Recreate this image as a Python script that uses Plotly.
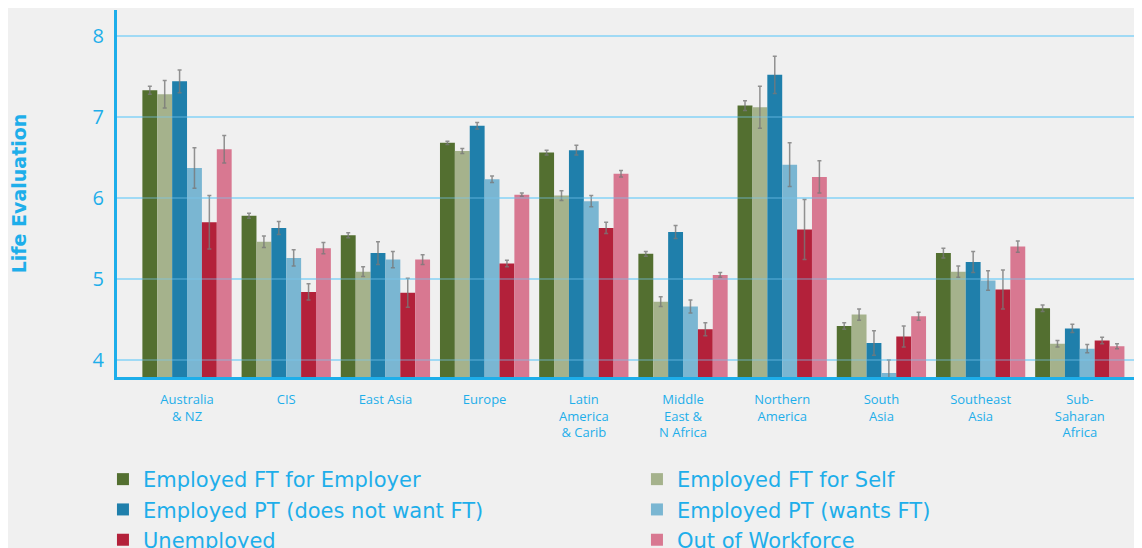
import plotly.graph_objects as go

regions = ["Australia<br>& NZ", "CIS", "East Asia", "Europe", "Latin<br>America<br>& Carib",
           "Middle<br>East &<br>N Africa", "Northern<br>America", "South<br>Asia",
           "Southeast<br>Asia", "Sub-<br>Saharan<br>Africa"]

series_names = ["Employed FT for Employer", "Employed FT for Self",
                "Employed PT (does not want FT)", "Employed PT (wants FT)",
                "Unemployed", "Out of Workforce"]

ft_employer = [7.33, 5.78, 5.54, 6.68, 6.56, 5.31, 7.14, 4.42, 5.32, 4.64]
ft_self     = [7.28, 5.46, 5.09, 6.58, 6.03, 4.72, 7.12, 4.56, 5.09, 4.20]
pt_nowant   = [7.44, 5.63, 5.32, 6.89, 6.59, 5.58, 7.52, 4.21, 5.21, 4.39]
pt_want     = [6.37, 5.26, 5.24, 6.23, 5.96, 4.66, 6.41, 3.84, 4.98, 4.14]
unemployed  = [5.70, 4.84, 4.83, 5.19, 5.63, 4.38, 5.61, 4.29, 4.87, 4.24]
out_wf      = [6.60, 5.38, 5.24, 6.04, 6.30, 5.05, 6.26, 4.54, 5.40, 4.17]

err_ft_employer = [0.05, 0.03, 0.03, 0.02, 0.03, 0.03, 0.06, 0.04, 0.06, 0.04]
err_ft_self     = [0.17, 0.07, 0.06, 0.03, 0.06, 0.06, 0.26, 0.07, 0.07, 0.04]
err_pt_nowant   = [0.14, 0.08, 0.14, 0.04, 0.06, 0.08, 0.23, 0.15, 0.13, 0.05]
err_pt_want     = [0.25, 0.10, 0.10, 0.04, 0.07, 0.08, 0.27, 0.16, 0.12, 0.05]
err_unemployed  = [0.33, 0.10, 0.18, 0.04, 0.07, 0.08, 0.37, 0.13, 0.24, 0.04]
err_out_wf      = [0.17, 0.07, 0.06, 0.02, 0.04, 0.03, 0.20, 0.05, 0.07, 0.03]

y_ticks = [4, 5, 6, 7, 8]

colors = ["#536f30", "#a5b28c", "#1f7fab", "#7ab6d2", "#b3213a", "#d87891"]

values = [ft_employer, ft_self, pt_nowant, pt_want, unemployed, out_wf]
errors = [err_ft_employer, err_ft_self, err_pt_nowant, err_pt_want, err_unemployed, err_out_wf]

accent = "#1eaeea"

fig = go.Figure()
for name, vals, errs, col in zip(series_names, values, errors, colors):
    fig.add_trace(go.Bar(
        x=regions, y=vals, name=name,
        marker=dict(color=col, line=dict(width=0)),
        error_y=dict(type="data", array=errs, visible=True,
                     color="rgba(120,120,120,0.8)", thickness=1.5, width=2),
    ))

# faint gridlines drawn over the bars, as in the original
for t in y_ticks:
    fig.add_shape(type="line", xref="paper", x0=0, x1=1, yref="y", y0=t, y1=t,
                  line=dict(color="rgba(120,200,240,0.35)", width=2), layer="above")

fig.update_layout(
    width=1142, height=548,
    margin=dict(l=109, r=8, t=2, b=179, autoexpand=False),
    paper_bgcolor="#f0f0f0", plot_bgcolor="#f0f0f0",
    barmode="group", bargap=0.1, bargroupgap=0,
    font=dict(family="Open Sans, sans-serif", color=accent),
    showlegend=True,
    legend=dict(
        orientation="h", x=-0.0137, xanchor="left", y=-0.2234, yanchor="top",
        entrywidth=489, entrywidthmode="pixels",
        font=dict(size=21, color=accent, family="DejaVu Sans, sans-serif"), itemwidth=30,
        bgcolor="rgba(0,0,0,0)", tracegroupgap=0,
    ),
)

fig.update_yaxes(
    range=[3.79, 8.32], tickvals=y_ticks,
    showgrid=True, gridcolor="#b5e3f7", gridwidth=2,
    showline=True, linecolor=accent, linewidth=3,
    zeroline=False, ticks="", ticklabelstandoff=6,
    tickfont=dict(size=20, color=accent),
    title=dict(text="<b>Life Evaluation</b>",
               font=dict(size=19, color=accent, family="DejaVu Sans, sans-serif"), standoff=68),
)
fig.update_xaxes(
    range=[-0.706, 9.627],
    showline=True, linecolor=accent, linewidth=3,
    showgrid=False, ticks="", tickangle=0, ticklabelstandoff=8,
    tickfont=dict(size=13, color=accent),
)

fig.write_html("out.html")
